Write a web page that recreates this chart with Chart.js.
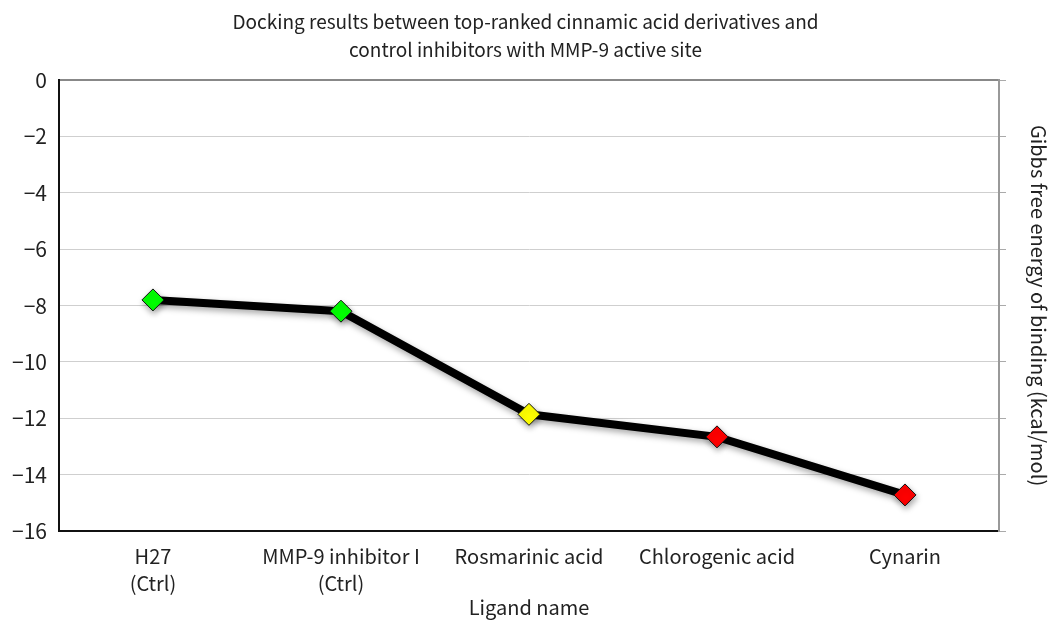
<!DOCTYPE html>
<html>
<head>
<meta charset="utf-8">
<script src="https://cdn.jsdelivr.net/npm/chart.js@4/dist/chart.umd.min.js"></script>
<style>
  html, body { margin:0; padding:0; background:#fff; }
  #wrap { width:1051px; height:621px; position:relative; }
</style>
</head>
<body>
<div id="wrap"><canvas id="dockChart"></canvas></div>
<script>
const ligands = [['H27','(Ctrl)'], ['MMP-9 inhibitor I','(Ctrl)'], 'Rosmarinic acid', 'Chlorogenic acid', 'Cynarin'];
const gibbsEnergy = [-7.8, -8.2, -11.86, -12.66, -14.72];
const markerColors = ['#00ff00', '#00ff00', '#ffff00', '#ff0000', '#ff0000'];
const titleLines = ['Docking results between top-ranked cinnamic acid derivatives and', 'control inhibitors with MMP-9 active site'];

const FONT = '"Noto Sans CJK KR", "Noto Sans", sans-serif';

// soft drop shadow under the line and markers
const shadowPlugin = {
  id: 'shadow',
  beforeDatasetDraw(chart){
    const ctx = chart.ctx;
    ctx.save();
    ctx.shadowColor = 'rgba(0,0,0,0.35)';
    ctx.shadowBlur = 6;
    ctx.shadowOffsetX = 1;
    ctx.shadowOffsetY = 3;
  },
  afterDatasetDraw(chart){ chart.ctx.restore(); }
};

function fmt(v){ return v < 0 ? '\u2212' + Math.abs(v) : String(v); }

new Chart(document.getElementById('dockChart'), {
  type: 'line',
  data: {
    labels: ligands,
    datasets: [{
      data: gibbsEnergy,
      borderColor: '#000',
      borderWidth: 8,
      pointStyle: 'rectRot',
      pointRadius: 11,
      pointHoverRadius: 11,
      pointBackgroundColor: markerColors,
      pointBorderColor: '#111',
      pointBorderWidth: 1,
      tension: 0
    }]
  },
  options: {
    responsive: true,
    maintainAspectRatio: false,
    animation: false,
    layout: { padding: { left: 0, right: 0, top: 0, bottom: 0 } },
    plugins: {
      legend: { display: false },
      tooltip: { enabled: false },
      title: {
        display: true,
        text: titleLines,
        color: '#222',
        font: { family: FONT, size: 19, weight: 'normal', lineHeight: 1.45 },
        padding: { top: 8, bottom: 17 }
      }
    },
    scales: {
      x: {
        offset: true,
        grid: { display: false },
        border: { display: true, color: '#111', width: 2 },
        ticks: { color: '#222', font: { family: FONT, size: 20, lineHeight: 1.35 }, padding: 4, maxRotation: 0, autoSkip: false },
        title: { display: true, text: 'Ligand name', color: '#222', font: { family: FONT, size: 20, lineHeight: 1.0 }, padding: { top: -4, bottom: 4 } }
      },
      y: {
        position: 'left',
        min: -16, max: 0,
        ticks: { stepSize: 2, color: '#222', font: { family: FONT, size: 21 }, padding: 12, callback: v => fmt(v) },
        grid: {
          drawTicks: false,
          color: ctx => ctx.tick && ctx.tick.value === 0 ? '#888' : '#cfcfcf',
          lineWidth: ctx => ctx.tick && ctx.tick.value === 0 ? 2 : 1
        },
        border: { display: true, color: '#111', width: 2 }
      },
      y2: {
        position: 'right',
        min: -16, max: 0,
        ticks: { stepSize: 2, display: false },
        grid: { drawOnChartArea: false, drawTicks: true, tickLength: 7, color: '#aaa' },
        border: { display: true, color: '#999', width: 2 },
        title: { display: true, text: 'Gibbs free energy of binding (kcal/mol)', color: '#222', font: { family: FONT, size: 20 }, padding: { top: 0, bottom: 21 } }
      }
    }
  },
  plugins: [shadowPlugin]
});
</script>
</body>
</html>
